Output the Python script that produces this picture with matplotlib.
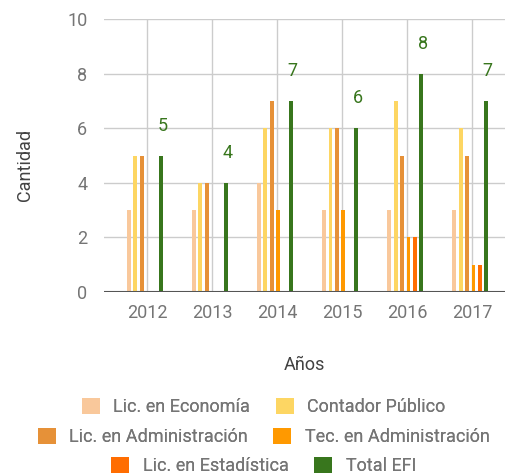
import matplotlib.pyplot as plt
import numpy as np
from matplotlib.patches import Patch

plt.rcParams['font.family'] = ['Roboto', 'DejaVu Sans']

years = ['2012', '2013', '2014', '2015', '2016', '2017']
series_names = ['Lic. en Economía', 'Contador Público', 'Lic. en Administración',
                'Tec. en Administración', 'Lic. en Estadística', 'Total EFI']
economia = [3, 3, 4, 3, 3, 3]
contador = [5, 4, 6, 6, 7, 6]
administracion = [5, 4, 7, 6, 5, 5]
tec_admin = [0, 0, 3, 3, 2, 1]
estadistica = [0, 0, 0, 0, 2, 1]
total_efi = [5, 4, 7, 6, 8, 7]
colors = ['#f9c89b', '#fdd663', '#e69138', '#ff9900', '#ff6d01', '#38761d']

all_series = [economia, contador, administracion, tec_admin, estadistica, total_efi]

fig = plt.figure(figsize=(5.13, 4.76), dpi=100)
ax = fig.add_axes([0.2027, 0.3866, 0.7813, 0.5734])

x = np.arange(len(years))
step = 0.099
for i, (vals, c) in enumerate(zip(all_series, colors)):
    ax.bar(x + (i - 2.5) * step - 0.03, vals, width=0.06, color=c, zorder=3)

# value labels on Total EFI
for xi, v in zip(x + 2.5 * step - 0.03, total_efi):
    ax.annotate(str(v), (xi, v), xytext=(1, 15), textcoords='offset points',
                ha='center', va='bottom', color='#38761d', fontsize=13)

ax.set_xlim(-0.66, 5.5)
ax.set_ylim(0, 10)
ax.set_yticks(range(0, 11, 2))
ax.set_xticks(x)
ax.set_xticklabels(years)
ax.grid(True, color='#cccccc', linewidth=1, zorder=0)
for s in ax.spines.values():
    s.set_visible(False)
ax.axhline(0, color='#555555', linewidth=1.5, zorder=4)
ax.tick_params(length=0, labelsize=13, labelcolor='#757575', pad=9)
ax.tick_params(axis='y', pad=12)

fig.text(0.049, 0.653, 'Cantidad', rotation=90, ha='center', va='center',
         fontsize=13, color='#424242')
fig.text(0.594, 0.233, 'Años', ha='center', va='center', fontsize=13, color='#424242')

# legend: three centered rows of two entries
handles = [Patch(facecolor=c, edgecolor='none') for c in colors]
rows_y = [0.145, 0.082, 0.021]
for r in range(3):
    leg = fig.legend(handles[2 * r:2 * r + 2], series_names[2 * r:2 * r + 2],
                     loc='center', bbox_to_anchor=(0.514, rows_y[r]), ncol=2,
                     frameon=False, fontsize=13, handlelength=1.0, handleheight=1.0,
                     handletextpad=0.75, columnspacing=1.4, borderpad=0,
                     labelcolor='#757575')
    fig.add_artist(leg)

plt.savefig('out.png', dpi=100)
